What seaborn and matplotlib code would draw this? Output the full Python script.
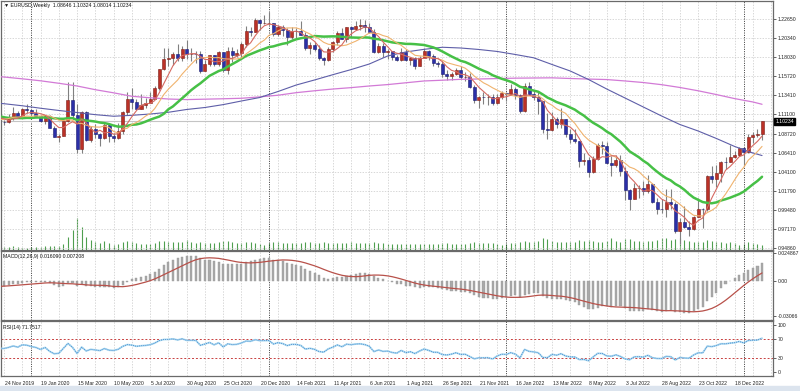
import numpy as np
import pandas as pd
import matplotlib
matplotlib.use("Agg")
import matplotlib.pyplot as plt
import matplotlib.transforms as mtrans
from matplotlib.patches import Rectangle
from matplotlib.ticker import MultipleLocator, FixedLocator
import seaborn as sns

sns.set_style("white")
plt.rcParams['font.family'] = ['Liberation Sans', 'DejaVu Sans']

# ---------------- data (weekly EURUSD, week index 0 = 24 Nov 2019) ----------------
warmup_closes = [1.1216, 1.1296, 1.1246, 1.1150, 1.1170, 1.1233, 1.1157, 1.1204, 1.1169, 1.1334,
                 1.1210, 1.1369, 1.1370, 1.1225, 1.1271, 1.1220, 1.1127, 1.1109, 1.1198, 1.1092,
                 1.1143, 1.0990, 1.1027, 1.1074, 1.1017, 1.0940, 1.0978, 1.1040, 1.1143, 1.1080,
                 1.1165, 1.1018, 1.1052, 1.1020]

opens = [1.1020, 1.1017, 1.1059, 1.1121, 1.1079, 1.1176, 1.1165, 1.1121, 1.1091, 1.1025,
         1.1093, 1.0944, 1.0830, 1.0847, 1.1025, 1.1285, 1.1105, 1.0692, 1.1141, 1.0802,
         1.0935, 1.0875, 1.0822, 1.0980, 1.0840, 1.0818, 1.0903, 1.1135, 1.1290, 1.1255,
         1.1178, 1.1220, 1.1247, 1.1300, 1.1427, 1.1656, 1.1778, 1.1787, 1.1841, 1.1795,
         1.1904, 1.1838, 1.1845, 1.1840, 1.1632, 1.1715, 1.1825, 1.1717, 1.1860, 1.1647,
         1.1876, 1.1832, 1.1856, 1.1962, 1.2120, 1.2110, 1.2255, 1.2213, 1.2215, 1.2220,
         1.2080, 1.2170, 1.2135, 1.2045, 1.2120, 1.2118, 1.2075, 1.1915, 1.1952, 1.1905,
         1.1795, 1.1763, 1.1900, 1.1980, 1.2097, 1.2020, 1.2165, 1.2145, 1.2180, 1.2193,
         1.2165, 1.2105, 1.1865, 1.1935, 1.1865, 1.1875, 1.1805, 1.1770, 1.1870, 1.1762,
         1.1795, 1.1700, 1.1795, 1.1880, 1.1815, 1.1725, 1.1718, 1.1595, 1.1572, 1.1600,
         1.1645, 1.1560, 1.1567, 1.1445, 1.1287, 1.1318, 1.1315, 1.1318, 1.1240, 1.1320,
         1.1370, 1.1360, 1.1410, 1.1345, 1.1145, 1.1455, 1.1350, 1.1320, 1.1270, 1.0930,
         1.0912, 1.1050, 1.0985, 1.1050, 1.0875, 1.0805, 1.0790, 1.0545, 1.0550, 1.0410,
         1.0560, 1.0730, 1.0720, 1.0520, 1.0495, 1.0555, 1.0425, 1.0185, 1.0082, 1.0212,
         1.0220, 1.0180, 1.0258, 1.0040, 0.9965, 0.9955, 1.0045, 1.0015, 0.9690, 0.9800,
         0.9740, 0.9722, 0.9860, 0.9965, 0.9960, 1.0355, 1.0325, 1.0400, 1.0535, 1.0530,
         1.0585, 1.0615, 1.0705, 1.0645, 1.0830, 1.0855, 1.08646]

highs = [1.1040, 1.1116, 1.1200, 1.1153, 1.1188, 1.1239, 1.1174, 1.1173, 1.1101, 1.1096,
         1.1095, 1.0965, 1.0865, 1.1053, 1.1495, 1.1496, 1.1237, 1.1147, 1.1148, 1.0970,
         1.0990, 1.0885, 1.1019, 1.0990, 1.0879, 1.1008, 1.1147, 1.1384, 1.1422, 1.1296,
         1.1349, 1.1303, 1.1375, 1.1452, 1.1660, 1.1909, 1.1916, 1.1865, 1.1966, 1.1935,
         1.2011, 1.1917, 1.1882, 1.1873, 1.1770, 1.1830, 1.1828, 1.1880, 1.1870, 1.1920,
         1.1920, 1.1905, 1.1990, 1.2177, 1.2165, 1.2273, 1.2262, 1.2310, 1.2349, 1.2222,
         1.2190, 1.2190, 1.2150, 1.2170, 1.2150, 1.2243, 1.2113, 1.1990, 1.1990, 1.1945,
         1.1800, 1.1927, 1.1995, 1.2117, 1.2150, 1.2167, 1.2182, 1.2245, 1.2266, 1.2255,
         1.2218, 1.2145, 1.1975, 1.1975, 1.1895, 1.1880, 1.1830, 1.1909, 1.1900, 1.1805,
         1.1805, 1.1810, 1.1909, 1.1885, 1.1845, 1.1750, 1.1750, 1.1640, 1.1625, 1.1670,
         1.1692, 1.1616, 1.1610, 1.1465, 1.1325, 1.1383, 1.1355, 1.1360, 1.1360, 1.1386,
         1.1377, 1.1482, 1.1440, 1.1350, 1.1484, 1.1495, 1.1395, 1.1395, 1.1275, 1.1120,
         1.1137, 1.1070, 1.1185, 1.1055, 1.0925, 1.0936, 1.0790, 1.0642, 1.0595, 1.0605,
         1.0765, 1.0787, 1.0775, 1.0601, 1.0610, 1.0615, 1.0465, 1.0200, 1.0278, 1.0255,
         1.0295, 1.0368, 1.0270, 1.0090, 1.0080, 1.0198, 1.0198, 1.0050, 0.9853, 0.9999,
         0.9810, 0.9875, 1.0094, 0.9977, 1.0366, 1.0481, 1.0497, 1.0545, 1.0595, 1.0737,
         1.0660, 1.0715, 1.0710, 1.0875, 1.0888, 1.0929, 1.10324]

lows = [1.0981, 1.1002, 1.1040, 1.1066, 1.1068, 1.1125, 1.1086, 1.1087, 1.1019, 1.0992,
        1.0940, 1.0827, 1.0778, 1.0840, 1.1020, 1.1055, 1.0636, 1.0637, 1.0780, 1.0769,
        1.0815, 1.0727, 1.0810, 1.0767, 1.0775, 1.0810, 1.0871, 1.1095, 1.1168, 1.1168,
        1.1170, 1.1185, 1.1240, 1.1300, 1.1400, 1.1640, 1.1696, 1.1710, 1.1752, 1.1760,
        1.1780, 1.1753, 1.1737, 1.1612, 1.1630, 1.1700, 1.1689, 1.1700, 1.1622, 1.1603,
        1.1745, 1.1800, 1.1800, 1.1925, 1.2058, 1.2110, 1.2130, 1.2200, 1.2190, 1.2055,
        1.2055, 1.2060, 1.1952, 1.2025, 1.2023, 1.2070, 1.1893, 1.1835, 1.1874, 1.1762,
        1.1704, 1.1760, 1.1870, 1.1950, 1.2020, 1.1986, 1.2052, 1.2135, 1.2136, 1.2105,
        1.2092, 1.1847, 1.1850, 1.1807, 1.1782, 1.1772, 1.1752, 1.1760, 1.1755, 1.1705,
        1.1664, 1.1690, 1.1790, 1.1770, 1.1700, 1.1685, 1.1563, 1.1528, 1.1525, 1.1590,
        1.1535, 1.1513, 1.1433, 1.1250, 1.1186, 1.1235, 1.1226, 1.1221, 1.1235, 1.1300,
        1.1272, 1.1355, 1.1300, 1.1121, 1.1140, 1.1340, 1.1280, 1.1106, 1.0880, 1.0806,
        1.0900, 1.0945, 1.0945, 1.0837, 1.0757, 1.0760, 1.0472, 1.0493, 1.0349, 1.0390,
        1.0550, 1.0627, 1.0505, 1.0358, 1.0470, 1.0355, 1.0070, 0.9952, 1.0080, 1.0095,
        1.0123, 1.0150, 1.0033, 0.9900, 0.9910, 0.9865, 0.9955, 0.9668, 0.9536, 0.9725,
        0.9632, 0.9705, 0.9860, 0.9730, 0.9935, 1.0270, 1.0223, 1.0290, 1.0443, 1.0525,
        1.0575, 1.0600, 1.0484, 1.0640, 1.0765, 1.0835, 1.08014]

closes = [1.1017, 1.1059, 1.1121, 1.1079, 1.1176, 1.1165, 1.1121, 1.1091, 1.1025, 1.1093,
          1.0944, 1.0830, 1.0847, 1.1025, 1.1285, 1.1105, 1.0692, 1.1141, 1.0802, 1.0935,
          1.0875, 1.0822, 1.0980, 1.0840, 1.0818, 1.0903, 1.1135, 1.1290, 1.1255, 1.1178,
          1.1220, 1.1247, 1.1300, 1.1427, 1.1656, 1.1778, 1.1787, 1.1841, 1.1795, 1.1904,
          1.1838, 1.1845, 1.1840, 1.1632, 1.1715, 1.1825, 1.1717, 1.1860, 1.1647, 1.1876,
          1.1832, 1.1856, 1.1962, 1.2120, 1.2110, 1.2255, 1.2213, 1.2215, 1.2220, 1.2080,
          1.2170, 1.2135, 1.2045, 1.2120, 1.2118, 1.2075, 1.1915, 1.1952, 1.1905, 1.1795,
          1.1763, 1.1900, 1.1980, 1.2097, 1.2020, 1.2165, 1.2145, 1.2180, 1.2193, 1.2165,
          1.2105, 1.1865, 1.1935, 1.1865, 1.1875, 1.1805, 1.1770, 1.1870, 1.1762, 1.1795,
          1.1700, 1.1795, 1.1880, 1.1815, 1.1725, 1.1718, 1.1595, 1.1572, 1.1600, 1.1645,
          1.1560, 1.1567, 1.1445, 1.1287, 1.1318, 1.1315, 1.1318, 1.1240, 1.1320, 1.1370,
          1.1360, 1.1410, 1.1345, 1.1145, 1.1455, 1.1350, 1.1320, 1.1270, 1.0930, 1.0912,
          1.1050, 1.0985, 1.1050, 1.0875, 1.0805, 1.0790, 1.0545, 1.0550, 1.0410, 1.0560,
          1.0730, 1.0720, 1.0520, 1.0495, 1.0555, 1.0425, 1.0185, 1.0082, 1.0212, 1.0220,
          1.0180, 1.0258, 1.0040, 0.9965, 0.9955, 1.0045, 1.0015, 0.9690, 0.9800, 0.9740,
          0.9722, 0.9860, 0.9965, 0.9960, 1.0355, 1.0325, 1.0400, 1.0535, 1.0530, 1.0585,
          1.0615, 1.0705, 1.0645, 1.0830, 1.0855, 1.0865, 1.10234]

volumes = [3, 3, 4, 3, 2, 2, 3, 3, 3, 4, 4, 4, 4,
           6, 13, 20, 32, 23, 13, 10, 8,
           7, 9, 7, 5, 6, 8, 9, 8, 7, 6, 6, 6, 7,
           9, 9, 8, 8, 8, 8, 10, 8, 7, 8, 7, 7, 7, 8, 9, 9, 8,
           7, 7, 8, 8, 7, 6, 5, 7, 8, 8, 7, 7, 7, 7, 7, 8, 8, 7, 7, 8,
           7, 7, 7, 7, 7, 8, 7, 7, 7, 7, 8, 7, 7, 6, 6, 6, 6, 6, 6, 6, 6, 6, 6, 6, 6, 7, 7, 6, 6, 6,
           6, 7, 8, 7, 7, 7, 7, 6, 5, 6, 7, 7, 8, 9, 8, 8, 9, 12, 11, 9,
           8, 8, 8, 8, 8, 10, 9, 10, 9, 8, 8, 9, 12, 9, 8, 11, 11, 9, 9, 8,
           9, 9, 10, 12, 12, 10, 11, 12, 10, 9, 8, 8, 8, 10, 9, 8, 8, 7, 8, 7,
           5, 6, 8, 7, 6, 5]

# slow moving averages every 4 weeks
slow_ma_weeks = [-1] + list(range(0, 165, 4)) + [166]
ma50_values = [1.1241, 1.1237, 1.1212, 1.1182, 1.1155, 1.1130, 1.1104, 1.1085, 1.1096, 1.1112, 1.1133,
               1.1167, 1.1191, 1.1226, 1.1270, 1.1312, 1.1385, 1.1464, 1.1525, 1.1589, 1.1651,
               1.1719, 1.1816, 1.1865, 1.1897, 1.1922, 1.1913, 1.1895, 1.1871, 1.1834, 1.1794,
               1.1713, 1.1634, 1.1531, 1.1415, 1.1306, 1.1197, 1.1088, 1.0985, 1.0906, 1.0815,
               1.0718, 1.0639, 1.0608]
ma200_values = [1.1565, 1.1561, 1.1539, 1.1515, 1.1485, 1.1452, 1.1407, 1.1369, 1.1327, 1.1309, 1.1294,
                1.1287, 1.1292, 1.1297, 1.1303, 1.1320, 1.1340, 1.1371, 1.1394, 1.1415, 1.1432,
                1.1452, 1.1469, 1.1491, 1.1513, 1.1522, 1.1533, 1.1537, 1.1542, 1.1547, 1.1549,
                1.1551, 1.1543, 1.1536, 1.1530, 1.1513, 1.1494, 1.1468, 1.1434, 1.1394, 1.1348,
                1.1299, 1.1258, 1.1230]

price_ticks = [1.22650, 1.20340, 1.18030, 1.15720, 1.13410, 1.11100, 1.08720,
               1.06410, 1.04100, 1.01790, 0.99480, 0.97170, 0.94860]
price_tick_labels = ["1.22650", "1.20340", "1.18030", "1.15720", "1.13410", "1.11100", "1.08720",
                     "1.06410", "1.04100", "1.01790", "0.99480", "0.97170", "0.94860"]
macd_ticks = [0.024867, 0.0, -0.03066]
macd_tick_labels = ["0.024867", "0.00", "-0.03066"]
rsi_ticks = [100, 70, 30, 0]
rsi_tick_labels = ["100", "70", "30", "0"]
rsi_levels = [70, 30]
date_label_weeks = list(range(0, 161, 8))
date_labels = ["24 Nov 2019", "19 Jan 2020", "15 Mar 2020", "10 May 2020", "5 Jul 2020",
               "30 Aug 2020", "25 Oct 2020", "20 Dec 2020", "14 Feb 2021", "11 Apr 2021",
               "6 Jun 2021", "1 Aug 2021", "26 Sep 2021", "21 Nov 2021", "16 Jan 2022",
               "13 Mar 2022", "8 May 2022", "3 Jul 2022", "28 Aug 2022", "23 Oct 2022",
               "18 Dec 2022"]
year_start_weeks = [6, 58, 110, 162]
header_main = "\u25BC EURUSD,Weekly  1.08646 1.10324 1.08014 1.10234"
header_macd = "MACD(12,26,9) 0.016090 0.007208"
header_rsi = "RSI(14) 71.7517"
last_price_label = "1.10234"

# ---------------- indicators from the closes ----------------
n = len(closes)
nw = len(warmup_closes)
weeks = np.arange(n)
allc = pd.Series(warmup_closes + closes, dtype=float)
all_weeks = np.arange(-nw, n)
sma5 = allc.rolling(5).mean()
sma10 = allc.rolling(10).mean()
sma20 = allc.rolling(20).mean()
ema12 = allc.ewm(span=12, adjust=False).mean()
ema26 = allc.ewm(span=26, adjust=False).mean()
macd = ema12 - ema26
signal = macd.rolling(9).mean()
delta = allc.diff()
gain = delta.clip(lower=0).ewm(alpha=1/14, adjust=False).mean()
loss = (-delta.clip(upper=0)).ewm(alpha=1/14, adjust=False).mean()
rsi = 100 - 100 / (1 + gain / loss)

vis = all_weeks >= -1
ind = pd.DataFrame({"week": all_weeks[vis], "sma5": sma5[vis].values, "sma10": sma10[vis].values,
                    "sma20": sma20[vis].values, "macd": macd[vis].values,
                    "signal": signal[vis].values, "rsi": rsi[vis].values})
slow = pd.DataFrame({"week": slow_ma_weeks, "ma50": ma50_values, "ma200": ma200_values})

o = np.array(opens); h = np.array(highs); l = np.array(lows); c = np.array(closes)

# ---------------- figure layout ----------------
W, H = 800, 391
fig = plt.figure(figsize=(W / 100, H / 100), dpi=100)
fig.patch.set_facecolor("white")
left = 1 / W
width = 772 / W
ax = fig.add_axes([left, 1 - 250 / H, width, 249 / H])
axm = fig.add_axes([left, 1 - 320 / H, width, 69.5 / H], sharex=ax)
axr = fig.add_axes([left, 1 - 376 / H, width, 55 / H], sharex=ax)
axv = ax.twinx()
ax.set_zorder(axv.get_zorder() + 1)
ax.patch.set_visible(False)

FS = 3.7
grid_kw = dict(color="#c8c8c8", linestyle=(0, (2, 2)), linewidth=0.5)
for a in (ax, axm, axr):
    a.set_xlim(-0.66, 168.4)
    a.xaxis.set_major_locator(FixedLocator(date_label_weeks))
    a.xaxis.set_minor_locator(MultipleLocator(4))
    a.grid(which="both", axis="x", **grid_kw)
    for s in a.spines.values():
        s.set_color("#6a6a6a")
        s.set_linewidth(0.9)
    a.yaxis.tick_right()
    a.tick_params(axis="y", which="both", labelsize=FS, length=2, width=0.5, pad=1.5,
                  colors="#222222", left=False, right=True)
    a.tick_params(axis="x", which="minor", length=0)
    for yw in year_start_weeks:
        a.axvline(yw, color="#333333", linestyle=(0, (1, 1.4)), linewidth=0.7, zorder=1)
for s in axv.spines.values():
    s.set_visible(False)

# ---------------- main price panel ----------------
ax.set_ylim(0.94616, 1.24834)
ax.set_yticks(price_ticks)
ax.set_yticklabels(price_tick_labels)
ax.grid(which="major", axis="y", **grid_kw)
ax.tick_params(axis="x", which="both", labelbottom=False, length=0)

axv.set_ylim(0, 249)
axv.vlines(weeks, 0, volumes, color="#4f9f4f", linewidth=0.8)
axv.set_yticks([])
axv.tick_params(axis="both", length=0, labelright=False)

ax.axhline(c[-1], color="#c4c4c4", linewidth=0.8, zorder=1.5)

up = c >= o
ax.vlines(weeks, l, h, color="#808080", linewidth=0.8, zorder=2)
ax.bar(weeks, np.abs(c - o), bottom=np.minimum(o, c), width=0.66,
       color=np.where(up, "#bb3127", "#2b2fa8"),
       edgecolor=np.where(up, "#7d1f18", "#1b1d6e"), linewidth=0.4, zorder=3)

sns.lineplot(data=slow, x="week", y="ma200", ax=ax, color="#d27ad6", linewidth=0.9, zorder=4)
sns.lineplot(data=slow, x="week", y="ma50", ax=ax, color="#5e5ea8", linewidth=0.8, zorder=4)
sns.lineplot(data=ind, x="week", y="sma20", ax=ax, color="#46c046", linewidth=1.8, zorder=4)
sns.lineplot(data=ind, x="week", y="sma10", ax=ax, color="#f0b36e", linewidth=0.8, zorder=5)
sns.lineplot(data=ind, x="week", y="sma5", ax=ax, color="#d66a62", linewidth=0.8, zorder=5)
ax.set_xlabel(""); ax.set_ylabel("")

ax.text(1.0, c[-1], last_price_label, transform=mtrans.blended_transform_factory(ax.transAxes, ax.transData)
        + mtrans.ScaledTranslation(2.5 / 100, 0, fig.dpi_scale_trans),
        ha="left", va="center", color="white", fontsize=FS, zorder=10, clip_on=False,
        bbox=dict(boxstyle="square,pad=0.22", fc="black", ec="black"))

# ---------------- MACD panel ----------------
axm.set_ylim(-0.0345, 0.0271)
axm.bar(ind["week"], ind["macd"], width=0.45, color="#a9a9a9", edgecolor="#9a9a9a",
        linewidth=0.3, zorder=2)
sns.lineplot(data=ind, x="week", y="signal", ax=axm, color="#b8514a", linewidth=0.9, zorder=3)
axm.set_yticks(macd_ticks)
axm.set_yticklabels(macd_tick_labels)
axm.tick_params(axis="x", which="both", labelbottom=False, length=0)
axm.set_xlabel(""); axm.set_ylabel("")

# ---------------- RSI panel ----------------
axr.set_ylim(-8.5, 108.5)
for lv in rsi_levels:
    axr.axhline(lv, color="#c84040", linestyle=(0, (2, 2)), linewidth=0.7, zorder=2)
sns.lineplot(data=ind, x="week", y="rsi", ax=axr, color="#a8d8f0", linewidth=1.3, zorder=3)
sns.lineplot(data=ind, x="week", y="rsi", ax=axr, color="#3a7cc8", linewidth=0.6,
             linestyle=(0, (1, 1.5)), zorder=4)
axr.set_yticks(rsi_ticks)
axr.set_yticklabels(rsi_tick_labels)
axr.set_xticks(date_label_weeks)
axr.set_xticklabels(date_labels)
axr.tick_params(axis="x", which="major", labelsize=FS, length=2, width=0.5, pad=1.5,
                colors="#222222", direction="out")
off = mtrans.ScaledTranslation(0.8 / 100, 0, fig.dpi_scale_trans)
for t in axr.get_xticklabels():
    t.set_horizontalalignment("left")
    t.set_transform(t.get_transform() + off)
axr.set_xlabel(""); axr.set_ylabel("")

# ---------------- headers ----------------
fig.text(4 / W, 1 - 6 / H, header_main, fontsize=FS, va="center", ha="left", color="#111111")
fig.text(3 / W, 1 - 256.5 / H, header_macd, fontsize=FS, va="center", ha="left", color="#111111")
fig.text(3 / W, 1 - 327 / H, header_rsi, fontsize=FS, va="center", ha="left", color="#111111")

fig.add_artist(Rectangle((0, 0), 1, 5 / H, transform=fig.transFigure, color="#dce4ee", zorder=0))

fig.savefig("out.png", dpi=100)
